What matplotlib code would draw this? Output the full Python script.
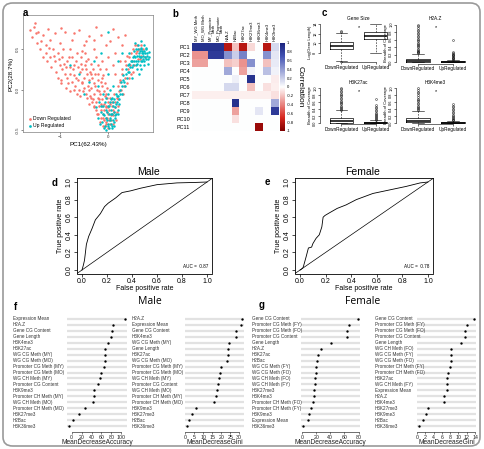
import matplotlib
matplotlib.use('Agg')
import matplotlib.pyplot as plt
import numpy as np
from matplotlib.colors import LinearSegmentedColormap
from matplotlib.patches import FancyBboxPatch
import matplotlib.transforms as mtransforms

plt.rcParams['font.family'] = ['Liberation Sans', 'DejaVu Sans']

# ---------------- DATA ----------------
# Panel a: PCA scatter
down_points = [(-1.55,0.78),(-1.5,0.7),(-1.58,0.65),(-1.45,0.72),(-1.4,0.6),(-1.35,0.68),(-1.3,0.55),(-1.25,0.75),
 (-1.2,0.62),(-1.15,0.5),(-1.1,0.7),(-1.05,0.45),(-1.0,0.58),(-0.95,0.4),(-0.9,0.72),(-0.85,0.35),(-0.8,0.5),
 (-0.75,0.62),(-0.7,0.3),(-0.65,0.45),(-0.6,0.74),(-0.55,0.25),(-0.5,0.55),(-0.45,0.35),(-0.4,0.66),(-0.35,0.2),
 (-0.3,0.5),(-0.25,0.78),(-0.2,0.3),(-0.15,0.1),(-1.3,0.45),(-1.2,0.4),(-1.1,0.35),(-1.0,0.3),(-0.95,0.25),
 (-0.9,0.2),(-0.85,0.15),(-0.8,0.28),(-0.75,0.1),(-0.7,0.18),(-0.68,0.05),(-0.62,0.12),(-0.6,0.0),(-0.58,0.22),
 (-0.55,0.08),(-0.52,-0.02),(-0.5,0.15),(-0.48,0.3),(-0.45,-0.05),(-0.42,0.05),(-0.4,0.12),(-0.38,-0.08),
 (-0.35,0.02),(-0.32,-0.12),(-0.3,0.08),(-0.28,-0.05),(-0.25,-0.15),(-0.22,0.0),(-0.2,-0.1),(-0.18,-0.2),
 (-0.16,-0.05),(-0.14,-0.25),(-0.12,-0.12),(-0.1,-0.3),(-0.08,-0.18),(-0.06,-0.08),(-0.05,-0.35),(-0.03,-0.22),
 (-0.02,-0.28),(0.0,-0.15),(0.02,-0.38),(0.03,-0.25),(0.05,-0.1),(0.06,-0.32),(0.08,-0.2),(0.1,-0.42),
 (0.12,-0.05),(0.13,-0.28),(0.15,-0.15),(-1.05,0.15),(-0.98,0.08),(-0.92,0.32),(-0.88,0.02),(-0.82,0.4),
 (-0.78,-0.02),(-0.72,0.25),(-0.66,0.35),(-0.64,-0.05),(-0.57,0.4),(-0.47,0.45),(-0.44,0.2),(-0.36,0.32),
 (-0.33,0.15),(-0.27,0.2),(-0.24,0.4),(-0.21,0.12),(-0.17,0.25),(-0.13,0.05),(-0.11,0.18),(-0.09,-0.02),
 (-0.07,0.08),(-0.04,-0.05),(-0.01,0.02),(0.18,-0.1),(0.2,0.05),(0.22,-0.2),(0.25,0.1),(0.28,0.0),(0.3,0.2),
 (0.32,-0.05),(0.35,0.15),(0.38,0.3),(0.4,0.08),(0.42,0.25),(0.45,0.4),(0.48,0.2),(0.5,0.35),(0.52,0.5),
 (0.55,0.3),(0.58,0.45),(0.6,0.55),(0.62,0.38),(0.65,0.5),(0.7,0.42),(0.1,0.3),(0.15,0.45),(0.05,0.6),
 (0.2,0.65),(0.3,0.55),(0.0,0.4),(-0.05,0.55),(0.35,0.68),(0.25,0.35),(-0.2,-0.3),(-0.15,-0.35),(-0.1,-0.45),
 (-0.05,-0.4),(0.0,-0.48),(0.04,-0.42),(0.08,-0.3),(0.1,-0.25),(-0.12,-0.2),(-0.18,-0.12),(-0.25,-0.25),
 (-0.3,-0.2),(-0.35,-0.1),(-0.4,-0.18),(-0.08,-0.38),(0.0,-0.3),(-0.02,-0.1),
 (-1.48,0.58),(-1.42,0.5),(-1.36,0.4),(-1.28,0.35),(-1.22,0.52),(-1.18,0.28),(-1.12,0.42),(-1.08,0.22),
 (-1.02,0.38),(-0.97,0.12),(-0.93,0.5),(-0.87,0.28),(-0.83,0.08),(-0.79,0.2),(-0.74,0.4),(-0.71,0.0),
 (-0.67,0.15),(-0.63,0.28),(-0.59,-0.08),(-0.56,0.32),(-0.53,0.1),(-0.49,0.02),(-0.46,0.25),(-0.43,-0.1),
 (-0.41,0.38),(-0.39,0.0),(-0.37,0.22),(-0.34,-0.15),(-0.31,0.25),(-0.29,-0.22),(-0.26,0.05),(-0.23,-0.3),
 (-0.21,0.2),(-0.19,-0.02),(-0.17,-0.4),(-0.15,-0.18),(-0.13,0.15),(-0.11,-0.35),(-0.09,-0.25),(-0.07,-0.45),
 (-0.05,-0.2),(-0.03,-0.42),(-0.01,-0.35),(0.01,-0.22),(0.04,-0.18),(0.07,-0.38),(0.09,-0.15),(0.11,-0.32),
 (0.14,-0.22),(0.16,-0.38),(0.19,-0.28),(0.21,-0.12),(0.23,-0.02),(0.26,0.12),(0.29,0.25),(0.33,0.05),
 (0.36,0.35),(0.39,0.42),(0.43,0.15),(0.46,0.3),(0.49,0.45),(0.53,0.22),(0.57,0.55),(0.61,0.48),(0.66,0.38),
 (0.69,0.55),(0.74,0.5),(0.78,0.4),(-1.62,0.74),(-1.52,0.82),(-0.98,0.76),(-0.7,0.7),(-0.45,0.6),(-0.15,0.68),
 (0.1,0.75),(-0.3,0.62),(-0.55,0.48),(-0.05,0.25),(0.15,0.2),(-0.12,0.35)]
up_points = [(-0.2,-0.35),(-0.15,-0.28),(-0.12,-0.4),(-0.1,-0.2),(-0.08,-0.32),(-0.06,-0.45),(-0.04,-0.25),
 (-0.02,-0.38),(0.0,-0.2),(0.0,-0.42),(0.02,-0.3),(0.03,-0.48),(0.04,-0.15),(0.05,-0.35),(0.06,-0.25),
 (0.07,-0.42),(0.08,-0.1),(0.09,-0.3),(0.1,-0.2),(0.11,-0.38),(0.12,-0.28),(0.13,-0.12),(0.14,-0.35),
 (0.15,-0.22),(0.16,-0.05),(0.17,-0.3),(0.18,-0.15),(0.2,-0.25),(0.22,-0.08),(0.24,-0.18),(-0.05,-0.1),
 (-0.1,-0.05),(-0.18,-0.15),(-0.25,-0.22),(0.01,-0.05),(0.05,0.0),(0.1,0.05),(-0.03,-0.5),(0.08,-0.48),
 (0.12,-0.45),(0.25,0.0),(0.28,0.1),(0.3,-0.05),(0.32,0.12),(0.35,0.05),(0.38,0.2),(0.4,0.15),(0.42,0.3),
 (0.45,0.22),(0.48,0.35),(0.5,0.28),(0.52,0.4),(0.55,0.35),(0.55,0.48),(0.58,0.3),(0.6,0.42),(0.6,0.25),
 (0.62,0.5),(0.63,0.35),(0.65,0.45),(0.66,0.3),(0.68,0.52),(0.7,0.4),(0.7,0.25),(0.72,0.48),(0.72,0.35),
 (0.74,0.42),(0.75,0.55),(0.76,0.3),(0.78,0.45),(0.8,0.38),(0.8,0.5),(0.82,0.42),(0.83,0.32),(0.85,0.47),
 (0.86,0.4),(0.68,0.6),(0.64,0.2),(0.56,0.58),(0.5,0.15),(0.45,0.45),(-0.6,0.2),(-0.4,0.1),(-0.3,0.35),
 (-0.5,-0.05),(0.0,0.72),(0.0,0.2),(-0.2,0.05),(0.2,0.35),(0.3,0.45),(-0.8,0.3),(-0.15,0.45),
 (-0.16,-0.42),(-0.14,-0.2),(-0.11,-0.3),(-0.09,-0.48),(-0.07,-0.15),(-0.04,-0.35),(-0.01,-0.28),(0.01,-0.45),
 (0.03,-0.2),(0.04,-0.38),(0.06,-0.12),(0.07,-0.3),(0.09,-0.45),(0.11,-0.15),(0.13,-0.4),(0.15,-0.32),
 (0.17,-0.18),(0.19,-0.08),(0.21,-0.3),(0.23,-0.12),(0.26,-0.05),(0.29,0.05),(0.31,0.18),(0.34,0.1),
 (0.37,0.25),(0.41,0.22),(0.44,0.32),(0.47,0.28),(0.51,0.35),(0.54,0.42),(0.57,0.4),(0.59,0.5),(0.61,0.32),
 (0.64,0.42),(0.67,0.48),(0.69,0.35),(0.71,0.45),(0.73,0.38),(0.75,0.48),(0.77,0.4),(0.79,0.52),(0.81,0.45),
 (0.84,0.38),(0.62,0.55),(0.7,0.5),(0.76,0.35),(0.66,0.4),(0.58,0.36),(0.53,0.3),(0.74,0.46)]

# Panel b: correlation heatmap
pc_labels = ['PC1','PC2','PC3','PC4','PC5','PC6','PC7','PC8','PC9','PC10','PC11']
feature_labels = ['MY_WG Meth','MO_WG Meth','MY_Promoter\nMeth','MO_Promoter\nMeth','H2A.Z','H2Bac',
                  'H3K27ac','H3K27me3','H3K36me3','H3K4me3','H3K9me3']
corr = [
 [0.9, 0.9, 0.9, 0.9, -0.8, -0.2, -0.8, -0.12, 0.0, -0.8, 0.15],
 [-0.35, -0.35, 0.85, 0.85, 0.45, 0.2, 0.5, 0.0, 0.0, 0.45, 0.1],
 [-0.3, -0.3, 0.0, 0.0, -0.2, -0.15, -0.35, 0.45, 0.0, -0.2, 0.08],
 [0.0, 0.0, 0.0, 0.0, 0.35, 0.0, -0.3, 0.05, 0.0, 0.25, 0.05],
 [0.0, 0.0, 0.0, 0.0, 0.0, 0.06, 0.0, 0.9, 0.0, 0.0, -0.06],
 [0.0, 0.0, 0.0, 0.0, 0.15, 0.15, 0.0, -0.2, 0.0, -0.1, -0.05],
 [-0.05, -0.05, -0.05, -0.05, -0.05, -0.05, -0.05, -0.05, -0.05, -0.05, -0.1],
 [0.0, 0.0, 0.0, 0.0, 0.0, 0.9, 0.0, 0.0, 0.0, 0.0, 0.35],
 [0.0, 0.0, 0.0, 0.0, 0.0, -0.3, 0.0, 0.0, 0.1, 0.0, 0.85],
 [0.0, 0.0, 0.0, 0.0, 0.0, -0.1, 0.0, 0.0, 0.0, 0.0, 0.0],
 [0.0, 0.0, 0.0, 0.0, 0.0, 0.0, 0.0, 0.0, -0.9, 0.0, 0.0]]

# Panel c: box plot summaries (whislo, q1, med, q3, whishi, fliers)
group_labels = ['DownRegulated', 'UpRegulated']
genesize_down = dict(whislo=6.4, q1=8.9, med=9.5, q3=10.2, whishi=12.1, fliers=[12.4, 12.6, 6.2])
genesize_up = dict(whislo=8.0, q1=10.9, med=11.5, q3=12.4, whishi=14.0, fliers=[])
h2az_down = dict(whislo=0.0, q1=0.0, med=0.03, q3=0.09, whishi=0.22,
                 fliers=[0.24,0.26,0.28,0.3,0.33,0.36,0.39,0.42,0.45,0.48,0.52,0.55,0.58,0.62,0.66,0.7,0.74,0.78,0.82,0.86,0.9,0.95,1.0])
h2az_up = dict(whislo=0.0, q1=0.0, med=0.005, q3=0.02, whishi=0.05,
               fliers=[0.06,0.08,0.1,0.12,0.14,0.16,0.18,0.2,0.22,0.25,0.28,0.58])
h3k27ac_down = dict(whislo=0.0, q1=0.01, med=0.05, q3=0.13, whishi=0.36,
                    fliers=[0.38,0.41,0.44,0.47,0.5,0.53,0.56,0.6,0.64,0.68,0.72,0.76,0.8,0.84,0.88,0.92,0.96,1.0])
h3k27ac_up = dict(whislo=0.0, q1=0.0, med=0.01, q3=0.04, whishi=0.09,
                  fliers=[0.1,0.12,0.15,0.18,0.21,0.24,0.27,0.3,0.34,0.38,0.42,0.47,0.52,0.7])
h3k4me3_down = dict(whislo=0.0, q1=0.02, med=0.07, q3=0.15, whishi=0.35,
                    fliers=[0.37,0.4,0.43,0.46,0.5,0.54,0.58,0.62,0.66,0.7,0.75,0.8,0.85,0.9,0.95,1.0])
h3k4me3_up = dict(whislo=0.0, q1=0.0, med=0.01, q3=0.03, whishi=0.07,
                  fliers=[0.08,0.1,0.12,0.15,0.18,0.21,0.24,0.28,0.32,0.36,0.4,0.45,0.5,0.55])

# Panels d, e: ROC curves
male_fpr = [0.0, 0.01, 0.02, 0.035, 0.053, 0.08, 0.107, 0.147, 0.18, 0.21, 0.27, 0.32, 0.39, 0.47, 0.6, 0.76, 0.9, 1.0]
male_tpr = [0.0, 0.05, 0.11, 0.29, 0.38, 0.47, 0.57, 0.64, 0.72, 0.76, 0.82, 0.88, 0.9, 0.93, 0.97, 0.99, 0.995, 1.0]
female_fpr = [0.0, 0.02, 0.026, 0.047, 0.065, 0.09, 0.1, 0.125, 0.15, 0.17, 0.18, 0.195, 0.23, 0.29, 0.36, 0.44, 0.57, 0.7, 0.83, 0.94, 1.0]
female_tpr = [0.0, 0.02, 0.04, 0.15, 0.25, 0.26, 0.3, 0.36, 0.4, 0.49, 0.6, 0.62, 0.65, 0.7, 0.74, 0.8, 0.87, 0.91, 0.95, 0.99, 1.0]
male_auc = 0.87
female_auc = 0.78

# Panels f, g: variable importance
male_acc_labels = ['Expression Mean','H2A.Z','Gene CG Content','Gene Length','H3K4me3','H3K27ac','WG CG Meth (MY)',
 'WG CG Meth (MO)','Promoter CG Meth (MY)','Promoter CG Meth (MO)','WG CH Meth (MY)','Promoter CG Content',
 'H3K9me3','Promoter CH Meth (MY)','WG CH Meth (MO)','Promoter CH Meth (MO)','H3K27me3','H2Bac','H3K36me3']
male_acc = [107, 83, 82, 80, 74, 68, 67, 67, 65, 59, 57, 53, 45, 45, 43, 26, 14, 2, -5]
male_gini_labels = ['H2A.Z','Expression Mean','Gene CG Content','H3K4me3','WG CG Meth (MY)','Gene Length','H3K27ac',
 'WG CG Meth (MO)','Promoter CG Meth (MY)','Promoter CG Meth (MO)','WG CH Meth (MY)','Promoter CG Content',
 'WG CH Meth (MO)','Promoter CH Meth (MY)','Promoter CH Meth (MO)','H3K9me3','H3K27me3','H2Bac','H3K36me3']
male_gini = [31.5, 31.3, 28.3, 28.0, 24.4, 24.0, 24.0, 23.5, 19.7, 19.1, 18.8, 18.2, 17.8, 17.4, 16.1, 6.0, 3.8, 2.4, 1.1]
female_acc_labels = ['Gene CG Content','Promoter CG Meth (FY)','Promoter CG Meth (FO)','Promoter CG Content',
 'Gene Length','H2A.Z','H3K27ac','H2Bac','WG CG Meth (FY)','WG CG Meth (FO)','WG CH Meth (FO)','WG CH Meth (FY)',
 'H3K27me3','H3K4me3','Promoter CH Meth (FO)','Promoter CH Meth (FY)','H3K9me3','Expression Mean','H3K36me3']
female_acc = [79, 66.5, 64, 64, 41, 26, 23, 21, 20, 19, 18.6, 18.4, 17, 16.7, 15, 12, 10, 8.4, 1.4]
female_gini_labels = ['Gene CG Content','Promoter CG Meth (FY)','Promoter CG Meth (FO)','Promoter CG Content',
 'Gene Length','WG CH Meth (FO)','WG CG Meth (FY)','WG CG Meth (FO)','Promoter CH Meth (FY)',
 'Promoter CH Meth (FO)','H3K27ac','WG CH Meth (FY)','Expression Mean','H2A.Z','H3K4me3','H3K27me3',
 'H3K9me3','H2Bac','H3K36me3']
female_gini = [13.7, 12.1, 11.5, 11.5, 10.7, 8.3, 8.1, 8.1, 8.0, 7.4, 7.3, 7.3, 7.1, 6.5, 6.4, 2.7, 2.1, 1.5, 0.5]

# ---------------- FIGURE ----------------
W, H = 484, 449
fig = plt.figure(figsize=(W / 100, H / 100), dpi=100)


def px_axes(l, t, r, b):
    return fig.add_axes([l / W, 1 - b / H, (r - l) / W, (b - t) / H])


def ftext(x, y, s, **kw):
    kw.setdefault('ha', 'center')
    kw.setdefault('va', 'center')
    fig.text(x / W, 1 - y / H, s, **kw)


# frame
fig.patches.append(FancyBboxPatch((3 / W, 3 / H), 1 - 7 / W, 1 - 6 / H,
                                  boxstyle='round,pad=0,rounding_size=0.02',
                                  transform=fig.transFigure, fill=False,
                                  ec='#9A9A9A', lw=1.2))

for lab, x, y in [('a', 25, 13), ('b', 175, 14), ('c', 324, 13), ('d', 55, 183),
                  ('e', 267, 182), ('f', 15, 307), ('g', 262, 305)]:
    ftext(x, y, lab, fontsize=7, fontweight='bold')

# ---- panel a ----
axa = px_axes(23, 15, 153, 132)
dx, dy = zip(*down_points)
ux, uy = zip(*up_points)
axa.scatter(dx, dy, s=3.2, c='#F8766D', lw=0, label='Down Regulated')
axa.scatter(ux, uy, s=3.2, c='#00BFC4', lw=0, label='Up Regulated')
axa.set_xlim(-1.77, 0.94)
axa.set_ylim(-0.525, 0.925)
axa.set_xticks([-1, 0])
axa.set_yticks([-0.5, 0.0, 0.5])
axa.set_yticklabels(['-0.5', '0.0', '0.5'], rotation=90, va='center')
axa.tick_params(labelsize=3.2, length=1.5, width=0.4, pad=1, colors='#333333')
for s in axa.spines.values():
    s.set_color('#808080')
    s.set_linewidth(0.5)
axa.set_xlabel('PC1(62.43%)', fontsize=4.5, labelpad=1.5)
axa.set_ylabel('PC2(28.7%)', fontsize=4.5, labelpad=1.5)
axa.legend(loc='lower left', fontsize=3.6, frameon=False, markerscale=1.1,
           handletextpad=0.2, borderaxespad=0.4, labelspacing=0.4, handlelength=1.0)

# ---- panel b ----
cmap = LinearSegmentedColormap.from_list('corr', [(0.0, '#7F0000'), (0.15, '#D7261E'), (0.5, '#FFFFFF'),
                                                  (0.85, '#4353B3'), (1.0, '#1A237E')])
axb = px_axes(192, 43, 279, 131)
im = axb.imshow(np.array(corr), cmap=cmap, vmin=-1, vmax=1, aspect='auto', interpolation='nearest')
axb.xaxis.tick_top()
axb.set_xticks(range(len(feature_labels)))
axb.set_xticklabels(feature_labels, rotation=90, fontsize=3.0, linespacing=0.9)
axb.set_yticks(range(len(pc_labels)))
axb.set_yticklabels(pc_labels, fontsize=4.0)
axb.tick_params(length=0, pad=1.5)
for s in axb.spines.values():
    s.set_visible(False)
axcb = px_axes(280, 43, 285, 131)
cb = fig.colorbar(im, cax=axcb)
cb.outline.set_visible(False)
cb_ticks = [1, 0.8, 0.6, 0.4, 0.2, 0, -0.2, -0.4, -0.6, -0.8, -1]
cb.set_ticks(cb_ticks)
cb.set_ticklabels([('%g' % t) for t in cb_ticks])
axcb.tick_params(labelsize=3.0, length=0, pad=1.5)
ftext(300, 87, 'Correlation', fontsize=6, rotation=-90)

# ---- panel c ----
box_kw = dict(positions=[1, 2], widths=0.7, showfliers=True,
              boxprops=dict(lw=0.5, color='black'),
              medianprops=dict(lw=1.1, color='black'),
              whiskerprops=dict(lw=0.4, ls=(0, (3, 2)), color='black'),
              capprops=dict(lw=0.4, color='black'),
              flierprops=dict(marker='o', ms=1.4, mfc='none', mec='black', mew=0.3))


def boxpanel(rect, stats, ylim, yticks, ylab, title, title_y):
    ax = px_axes(*rect)
    ax.bxp(stats, **box_kw)
    ax.set_ylim(ylim)
    ax.set_xlim(0.37, 2.63)
    ax.set_yticks(yticks)
    ax.set_yticklabels([('%g' % t) if ylab.startswith('Log') else ('%.1f' % t) for t in yticks],
                       rotation=90, va='center')
    ax.set_xticks([1, 2])
    ax.set_xticklabels(group_labels)
    ax.tick_params(axis='y', labelsize=2.8, length=1.2, width=0.4, pad=0.8)
    ax.tick_params(axis='x', labelsize=3.4, length=1.2, width=0.4, pad=0.8)
    ax.spines['top'].set_visible(False)
    ax.spines['right'].set_visible(False)
    ax.spines['left'].set_bounds(yticks[0], yticks[-1])
    ax.spines['bottom'].set_bounds(1, 2)
    ax.spines['left'].set_linewidth(0.4)
    ax.spines['bottom'].set_linewidth(0.4)
    ax.set_ylabel(ylab, fontsize=3.0, labelpad=1)
    cx = (rect[0] + rect[2]) / 2
    ftext(cx, title_y, title, fontsize=3.4)
    ftext(cx, title_y + 10, '*', fontsize=4)
    return ax


cov_ticks = [0.0, 0.2, 0.4, 0.6, 0.8, 1.0]
boxpanel((320, 22, 397, 62), [genesize_down, genesize_up], (6.1, 14.4), [8, 10, 12, 14],
         'Log(Gene Length)', 'Gene Size', 18)
boxpanel((396, 23, 475, 63.5), [h2az_down, h2az_up], (-0.04, 1.04), cov_ticks,
         'Breadth of Coverage', 'H2A.Z', 18)
boxpanel((320, 86.6, 397, 124.4), [h3k27ac_down, h3k27ac_up], (-0.04, 1.04), cov_ticks,
         'Breadth of Coverage', 'H3K27ac', 82)
boxpanel((396, 86.6, 475, 124.4), [h3k4me3_down, h3k4me3_up], (-0.04, 1.04), cov_ticks,
         'Breadth of Coverage', 'H3K4me3', 82)

# ---- panels d, e ----


def rocpanel(rect, fpr, tpr, auc, title, title_x):
    ax = px_axes(*rect)
    ax.plot(fpr, tpr, color='black', lw=0.6)
    ax.axline((0, 0), (1, 1), color='black', lw=0.5)
    ax.set_xlim(-0.04, 1.04)
    ax.set_ylim(-0.04, 1.04)
    ticks = [0.0, 0.2, 0.4, 0.6, 0.8, 1.0]
    ax.set_xticks(ticks)
    ax.set_yticks(ticks)
    ax.set_xticklabels(['%.1f' % t for t in ticks])
    ax.set_yticklabels(['%.1f' % t for t in ticks], rotation=90, va='center')
    ax.tick_params(labelsize=5, length=2, width=0.5, pad=1)
    for s in ax.spines.values():
        s.set_linewidth(0.6)
    ax.set_xlabel('False positive rate', fontsize=5, labelpad=0)
    ax.set_ylabel('True positive rate', fontsize=5, labelpad=1)
    ax.text(0.975, 0.05, 'AUC =  %.2f' % auc, transform=ax.transAxes, fontsize=3.3, ha='right', va='bottom')
    ftext(title_x, 172, title, fontsize=7.5)


rocpanel((77, 178.5, 212, 273.5), male_fpr, male_tpr, male_auc, 'Male', 148)
rocpanel((295, 178.5, 433, 273.5), female_fpr, female_tpr, female_auc, 'Female', 363)

# ---- panels f, g ----


def dotpanel(rect, labels, values, label_x, xlim, xticks, xlabel):
    ax = px_axes(*rect)
    n = len(labels)
    ypos = np.arange(n, 0, -1)
    ax.hlines(ypos, xlim[0], xlim[1], color='#E2E2E2', lw=1.6)
    ax.plot(values, ypos, 'o', color='black', ms=1.7, mew=0)
    ax.set_xlim(xlim)
    ax.set_ylim(0.5, n + 0.5)
    ax.set_yticks([])
    ax.set_xticks(xticks)
    for side in ['top', 'right', 'left']:
        ax.spines[side].set_visible(False)
    ax.spines['bottom'].set_bounds(xticks[0], xticks[-1])
    ax.spines['bottom'].set_position(('outward', 2))
    ax.spines['bottom'].set_linewidth(0.4)
    ax.tick_params(axis='x', labelsize=3.8, length=1.5, width=0.4, pad=1, colors='#222222')
    trans = mtransforms.blended_transform_factory(fig.transFigure, ax.transData)
    for lab, y in zip(labels, ypos):
        ax.text(label_x / W, y, lab, transform=trans, fontsize=3.3, ha='left', va='center', color='#333333')
    ftext((rect[0] + rect[2]) / 2, 443, xlabel, fontsize=4.8, color='#222222')
    return ax


dotpanel((67, 316, 127, 429), male_acc_labels, male_acc, 13, (-9.5, 111.5),
         [0, 20, 40, 60, 80, 100], 'MeanDecreaseAccuracy')
dotpanel((185, 316, 244, 429), male_gini_labels, male_gini, 132, (-0.1, 32.7),
         [0, 5, 10, 15, 20, 25, 30], 'MeanDecreaseGini')
dotpanel((301, 316, 360, 429), female_acc_labels, female_acc, 252, (-1.7, 82.1),
         [0, 20, 40, 60, 80], 'MeanDecreaseAccuracy')
dotpanel((417, 316, 476, 429), female_gini_labels, female_gini, 375, (-0.03, 14.23),
         [0, 2, 4, 6, 8, 10, 12, 14], 'MeanDecreaseGini')
ftext(150, 302, 'Male', fontsize=7.5, family=['Open Sans', 'DejaVu Sans'])
ftext(363, 302, 'Female', fontsize=7.5, family=['Open Sans', 'DejaVu Sans'])

fig.savefig('out.png', dpi=100)
